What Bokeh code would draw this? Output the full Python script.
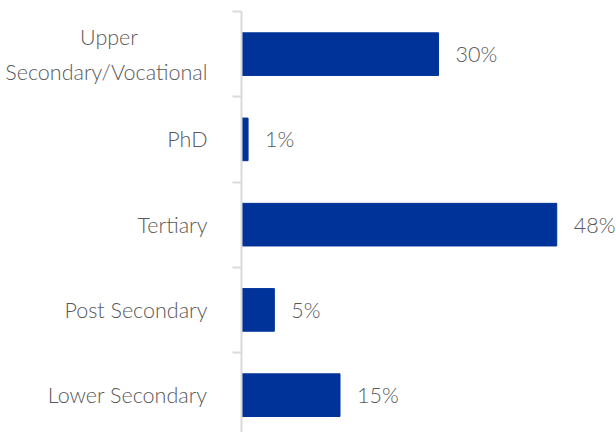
from bokeh.plotting import figure
from bokeh.models import Range1d, FixedTicker, ColumnDataSource, LabelSet
from bokeh.core.properties import value
from bokeh.embed import file_html
from bokeh.resources import INLINE

categories = ["Lower Secondary", "Post Secondary", "Tertiary", "PhD", "Upper\nSecondary/Vocational"]
values = [15, 5, 48, 1, 30]
labels = [f"{v}%" for v in values]

ypos = [i + 0.5 for i in range(len(categories))]
src = ColumnDataSource(dict(y=ypos, v=values, lab=labels))

FONT = "Lato Light, Lato"
TXT = "#595959"
FS = "21.5px"

p = figure(width=616, height=432, output_backend="svg", toolbar_location=None,
           x_range=Range1d(0, 57.1), y_range=Range1d(0.062, 5.0),
           min_border_left=241, min_border_right=0, min_border_top=11, min_border_bottom=0)
p.outline_line_color = None
p.xgrid.visible = False
p.ygrid.visible = False
p.xaxis.visible = False

p.hbar(y="y", right="v", left=0, height=0.5, color="#003399", source=src)

p.add_layout(LabelSet(x="v", y="y", text="lab", source=src, x_offset=17,
                      text_baseline="middle", text_font=value(FONT), text_font_size=FS,
                      text_color=TXT))

# centre the short first line of the two-line label over the second line
def centred(label):
    lines = label.split("\n")
    if len(lines) == 1:
        return label
    return lines[0] + "\u00a0" * 12 + "\n" + lines[1]

ax = p.yaxis[0]
ax.ticker = FixedTicker(ticks=ypos, minor_ticks=list(range(len(categories) + 1)))
ax.major_label_overrides = {y: centred(c) for y, c in zip(ypos, categories)}
ax.major_tick_line_color = None
ax.major_tick_out = 0
ax.major_tick_in = 0
ax.minor_tick_out = 9
ax.minor_tick_in = 0
ax.minor_tick_line_color = "#d9d9d9"
ax.minor_tick_line_width = 2
ax.axis_line_color = "#d9d9d9"
ax.axis_line_width = 2
ax.major_label_standoff = 25
ax.major_label_text_font = FONT
ax.major_label_text_font_size = FS
ax.major_label_text_color = TXT
ax.major_label_text_align = "right"
ax.major_label_text_line_height = 1.35

open("out.html", "w").write(file_html(p, INLINE))
